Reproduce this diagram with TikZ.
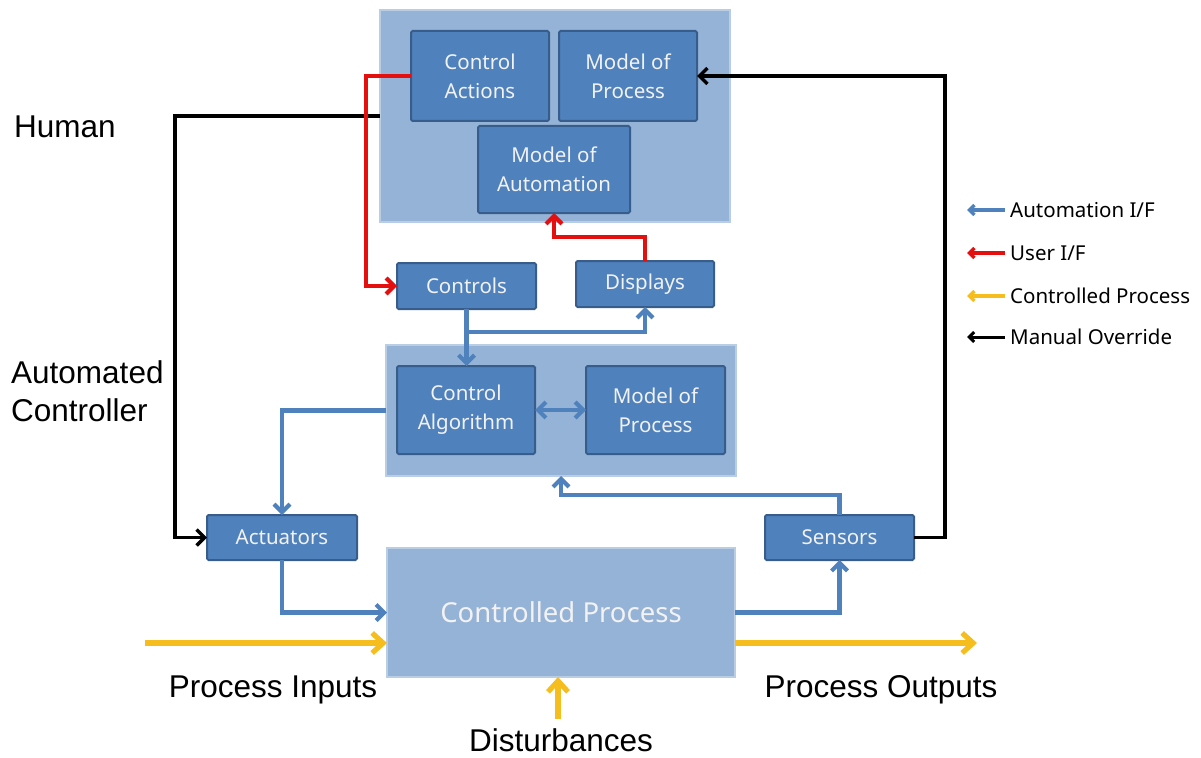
\documentclass[tikz,border=0pt]{standalone}
\usepackage{fontspec}
\setmainfont{Noto Sans}
\newfontfamily\arialfont{Liberation Sans}
\usetikzlibrary{arrows.meta,calc}

\definecolor{boxblue}{HTML}{4F81BD}
\definecolor{boxedge}{HTML}{385D8A}
\definecolor{paneblue}{HTML}{95B3D7}
\definecolor{paneedge}{HTML}{B9CDE5}
\definecolor{linkblue}{HTML}{4F81BD}
\definecolor{userred}{HTML}{E41010}
\definecolor{procyellow}{HTML}{F5BE1E}
\definecolor{boxtext}{HTML}{F2F2F2}

\tikzset{
  inner/.style={draw=boxedge, line width=2pt, fill=boxblue, inner sep=0pt, outer sep=0pt,
    rounded corners=1.5pt, text=boxtext, align=center, font=\fontsize{20.5}{29}\selectfont},
  pane/.style={draw=paneedge, line width=1.5pt, fill=paneblue, inner sep=0pt, outer sep=0pt},
  tip/.style={-{Straight Barb[length=8pt,width=16pt]}},
  autolink/.style={draw=linkblue, line width=4.2pt, tip},
  userlink/.style={draw=userred, line width=4.2pt, tip},
  proclink/.style={draw=procyellow, line width=5.2pt, -{Straight Barb[length=11pt,width=20pt]}},
  overlink/.style={draw=black, line width=3.4pt, tip},
  sidelabel/.style={font=\arialfont\fontsize{31.5}{38}\selectfont, inner sep=0pt},
  legendtext/.style={font=\fontsize{20.5}{24}\selectfont, anchor=west, inner sep=0pt},
  legendtip/.style={-{Straight Barb[length=5pt,width=10pt]}},
}

\begin{document}
\begin{tikzpicture}[x=1pt, y=-1pt]
\useasboundingbox (0,0) rectangle (1201,757);

% panes
\node[pane, minimum width=350pt, minimum height=212pt] (hum) at (555,116) {};
\node[pane, minimum width=350pt, minimum height=131pt] (aut) at (561,410.5) {};
\node[pane, minimum width=348pt, minimum height=129pt, text=boxtext,
      font=\fontsize{27.5}{30}\selectfont] (proc) at (561,612.5) {Controlled Process};

% human side
\node[inner, minimum width=138pt, minimum height=90pt] (ca) at (480,76) {Control\\Actions};
\node[inner, minimum width=138pt, minimum height=90pt] (mp1) at (628,76) {Model of\\Process};
\node[inner, minimum width=152pt, minimum height=87pt] (ma) at (554,169.5) {Model of\\Automation};

% interface
\node[inner, minimum width=139pt, minimum height=46pt] (ctl) at (466.5,286) {Controls};
\node[inner, minimum width=138pt, minimum height=46pt] (dsp) at (645,284) {Displays};

% automated controller
\node[inner, minimum width=138pt, minimum height=88pt] (alg) at (466,410) {Control\\Algorithm};
\node[inner, minimum width=139pt, minimum height=88pt] (mp2) at (655.5,410) {Model of\\Process};

% plant interface
\node[inner, minimum width=150pt, minimum height=45pt] (act) at (282,537.5) {Actuators};
\node[inner, minimum width=149pt, minimum height=45pt] (sen) at (839.5,537.5) {Sensors};

% routing columns
\coordinate (bx) at (175,0);
\coordinate (rx) at (366,0);
\coordinate (bx2) at (945,0);
\coordinate (pin) at (145,643);
\coordinate (pout) at (977,643);
\coordinate (dist) at (558,719);

% manual override paths
\draw[overlink] (hum.west) -| (bx |- act.west) -- (act.west);
\draw[overlink] (sen.east) -| (bx2 |- mp1.east) -- (mp1.east);

% user interface paths
\draw[userlink] (ca.west) -| (rx |- ctl.west) -- (ctl.west);
\draw[userlink] (dsp.north) -- ++(0,-24) -| (ma.south);

% automation interface paths
\draw[autolink] (ctl.south) -- (ctl.south |- alg.north);
\coordinate (br) at ($(ctl.south)+(0,23)$);
\draw[autolink] (br) -| (dsp.south);
\draw[draw=linkblue, line width=4.2pt, {Straight Barb[length=8pt,width=16pt]}-{Straight Barb[length=8pt,width=16pt]}] (alg.east) -- (mp2.west);
\draw[autolink] (aut.west) -| (act.north);
\draw[autolink] (act.south) |- (proc.west);
\draw[autolink] (proc.east) -| (sen.south);
\draw[autolink] (sen.north) -- ++(0,-20) -| (aut.south);

% process flows
\draw[proclink] (pin) -- (proc.west |- pin);
\draw[proclink] (proc.east |- pout) -- (pout);
\draw[proclink] (dist) -- (dist |- proc.south);

% side labels
\node[sidelabel, anchor=west] (lhum) at (14,127) {Human};
\node[sidelabel, anchor=west, align=left] (lauto) at (11,391) {Automated\\Controller};
\node[sidelabel] (lin) at (273,690) {Process Inputs};
\node[sidelabel] (lout) at (881,690) {Process Outputs};
\node[sidelabel, anchor=base] (ldist) at (561,751) {Disturbances};

% legend
\coordinate (g1) at (1005,210);
\coordinate (g2) at (1005,253);
\coordinate (g3) at (1005,296);
\coordinate (g4) at (1005,337);
\draw[draw=linkblue, line width=3.5pt, legendtip] (g1) -- ++(-38,0);
\draw[draw=userred, line width=3.5pt, legendtip] (g2) -- ++(-38,0);
\draw[draw=procyellow, line width=3.5pt, legendtip] (g3) -- ++(-38,0);
\draw[draw=black, line width=3pt, legendtip] (g4) -- ++(-38,0);
\node[legendtext] (t1) at ($(g1)+(5,0)$) {Automation I/F};
\node[legendtext] (t2) at ($(g2)+(5,0)$) {User I/F};
\node[legendtext] (t3) at ($(g3)+(5,0)$) {Controlled Process};
\node[legendtext] (t4) at ($(g4)+(5,0)$) {Manual Override};
\end{tikzpicture}
\end{document}
